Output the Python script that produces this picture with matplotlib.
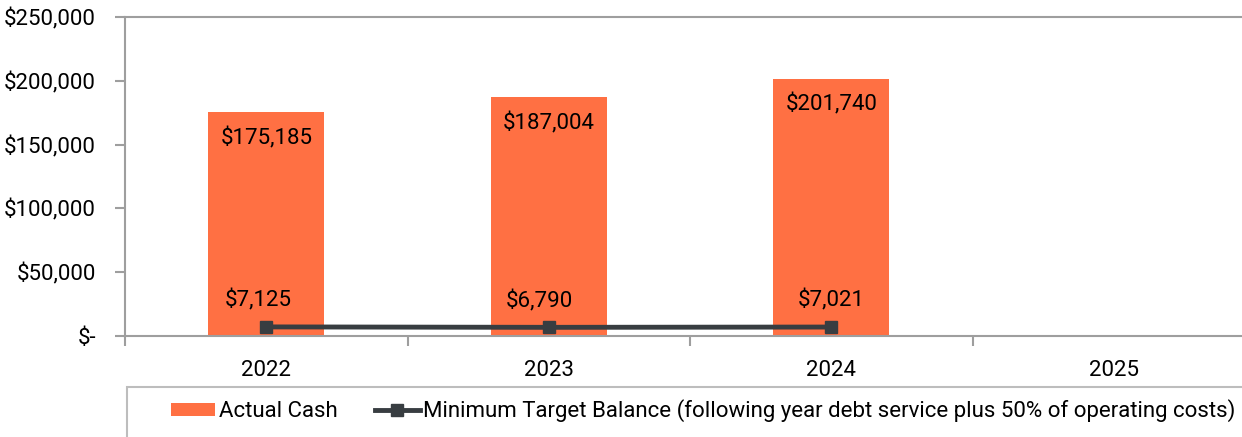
import matplotlib.pyplot as plt
from matplotlib.patches import Rectangle
from matplotlib.ticker import FuncFormatter, FixedLocator

plt.rcParams["font.family"] = ["Roboto", "DejaVu Sans"]

years = ["2022", "2023", "2024", "2025"]
actual_cash = [175185, 187004, 201740, None]
min_target = [7125, 6790, 7021]

bar_color = "#FF7043"
line_color = "#383D41"
axis_color = "#9E9E9E"
fs = 16

fig = plt.figure(figsize=(12.42, 4.37), dpi=100)
ax = fig.add_axes([125 / 1242, 1 - 336 / 437, (1255 - 125) / 1242, (336 - 17) / 437])

x = list(range(len(years)))
bar_x = [i for i, v in zip(x, actual_cash) if v is not None]
bar_v = [v for v in actual_cash if v is not None]
bars = ax.bar(bar_x, bar_v, width=0.41, color=bar_color, label="Actual Cash", zorder=2)
for xi, v in zip(bar_x, bar_v):
    ax.annotate(f"${v:,.0f}", (xi, v), xytext=(0, -11), textcoords="offset points",
                ha="center", va="top", fontsize=fs, color="black", zorder=4)

line_x = x[:len(min_target)]
line, = ax.plot(line_x, min_target, color=line_color, lw=3.5, marker="s", markersize=8.3,
                label="Minimum Target Balance (following year debt service plus 50% of operating costs)",
                zorder=3)
label_dx = [-6, -7, 0]
for xi, v, dx in zip(line_x, min_target, label_dx):
    ax.annotate(f"${v:,.0f}", (xi, v), xytext=(dx, 11), textcoords="offset points",
                ha="center", va="bottom", fontsize=fs, color="black", zorder=4)

ax.set_xlim(-0.5, len(years) - 0.5)
ax.set_ylim(0, 250000)
ax.set_yticks(range(0, 250001, 50000))
ax.yaxis.set_major_formatter(FuncFormatter(lambda v, p: "$-" if v == 0 else f"${v:,.0f}"))
ax.set_xticks(x)
ax.set_xticklabels(years)
ax.xaxis.set_minor_locator(FixedLocator([i - 0.5 for i in range(len(years) + 1)]))
ax.tick_params(axis="x", which="major", length=0, pad=17, labelsize=fs)
ax.tick_params(axis="x", which="minor", length=7, color=axis_color, width=1.5)
ax.tick_params(axis="y", length=7, color=axis_color, width=1.5, labelsize=fs, pad=14)

ax.spines["right"].set_visible(False)
for s in ["left", "bottom", "top"]:
    ax.spines[s].set_color(axis_color)
    ax.spines[s].set_linewidth(1.5)

fig.patches.append(Rectangle((127 / 1242, -0.05), 1.2, (437 - 387) / 437 + 0.05,
                             transform=fig.transFigure, fill=False,
                             edgecolor="#BDBDBD", lw=1.5))
fig.legend([bars, line], [bars.get_label(), line.get_label()], loc="center",
           bbox_to_anchor=(703 / 1242, 1 - 411 / 437),
           ncol=2, frameon=False, fontsize=fs, handlelength=2.0, handleheight=0.5,
           handletextpad=0.15, columnspacing=1.7)

fig.savefig("out.png", dpi=100)
